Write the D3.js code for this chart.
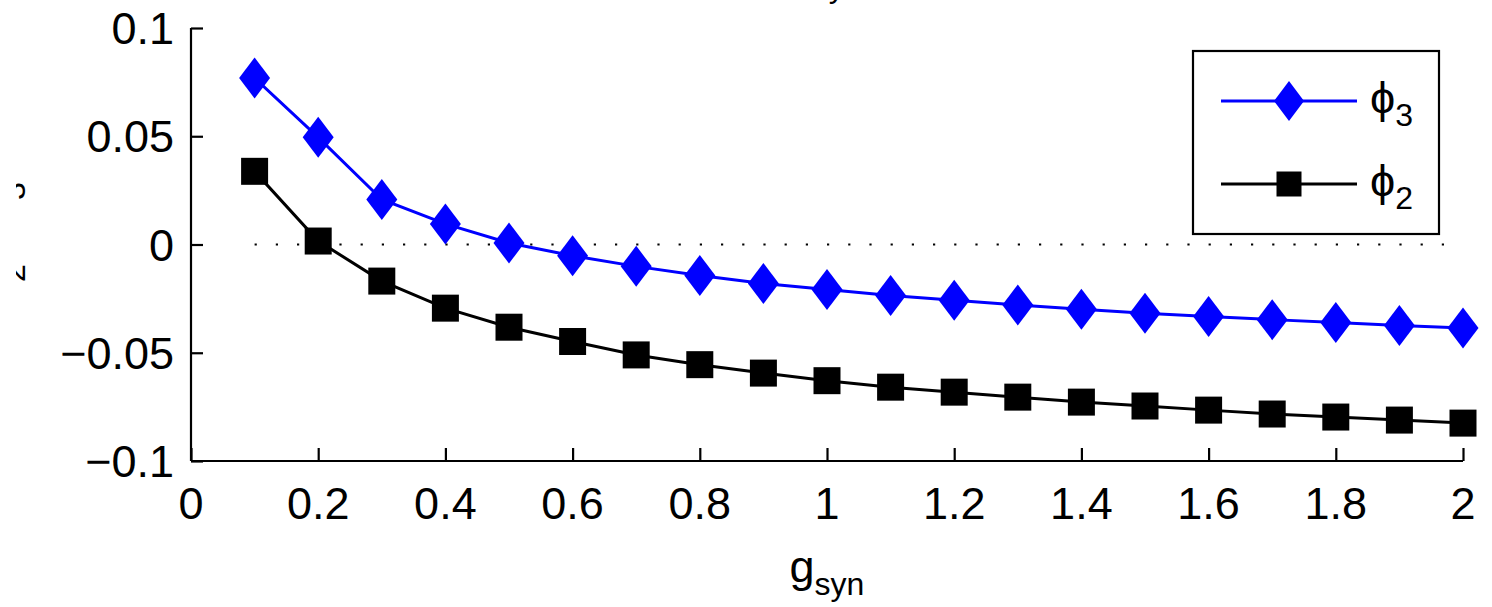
<!DOCTYPE html>
<html>
<head>
<meta charset="utf-8">
<script src="https://cdn.jsdelivr.net/npm/d3@7"></script>
<style>
  html, body { margin: 0; padding: 0; background: #fff; }
  svg { display: block; font-family: "Liberation Sans", Arial, Helvetica, sans-serif; }
</style>
</head>
<body>
<svg id="chart" width="1492" height="607"></svg>
<script>
// Coupling strength values
const gsyn = [0.1, 0.2, 0.3, 0.4, 0.5, 0.6, 0.7, 0.8, 0.9, 1.0,
              1.1, 1.2, 1.3, 1.4, 1.5, 1.6, 1.7, 1.8, 1.9, 2.0];
// Phase of the third cell
const phi3 = [0.0769, 0.0495, 0.0208, 0.0095, 0.0007, -0.0052, -0.0101, -0.0143, -0.0180, -0.0208,
              -0.0236, -0.0258, -0.0280, -0.0299, -0.0317, -0.0333, -0.0347, -0.0360, -0.0374, -0.0386];
// Phase of the second cell
const phi2 = [0.0338, 0.0016, -0.0169, -0.0294, -0.0382, -0.0448, -0.0510, -0.0555, -0.0594, -0.0629,
              -0.0659, -0.0682, -0.0705, -0.0728, -0.0746, -0.0765, -0.0783, -0.0797, -0.0811, -0.0825];
const xTicks = [0, 0.2, 0.4, 0.6, 0.8, 1, 1.2, 1.4, 1.6, 1.8, 2];
const yTicks = [-0.1, -0.05, 0, 0.05, 0.1];

const PHI = "\u03d5";
const svg = d3.select("#chart");
const x = d3.scaleLinear().domain([0, 2]).range([191, 1463]);
const y = d3.scaleLinear().domain([-0.1, 0.1]).range([461, 28]);

const fmt = v => (v < 0 ? "\u2212" : "") + String(Math.abs(v));

// Zero reference line (dotted)
svg.append("line")
  .attr("x1", x(0.1)).attr("x2", x(2))
  .attr("y1", y(0)).attr("y2", y(0))
  .attr("stroke", "#000").attr("stroke-width", 2.2)
  .attr("stroke-dasharray", "2.2 19");

// Axes: ticks point inward
const xAxis = d3.axisTop(x).tickValues(xTicks).tickSize(13).tickFormat("");
const gx = svg.append("g").attr("transform", `translate(0,${y(-0.1)})`).call(xAxis);
const yAxis = d3.axisRight(y).tickValues(yTicks).tickSize(12).tickFormat("");
const gy = svg.append("g").attr("transform", `translate(${x(0)},0)`).call(yAxis);
[gx, gy].forEach(g => {
  g.select(".domain").attr("stroke", "#000").attr("stroke-width", 2.2);
  g.selectAll(".tick line").attr("stroke", "#000").attr("stroke-width", 2.2);
});
gx.select(".domain").attr("d", `M${x(0)},0H${x(2)}`);
gy.select(".domain").attr("d", `M0,${y(-0.1)}V${y(0.1)}`);

// Tick labels
svg.append("g").selectAll("text").data(xTicks).join("text")
  .attr("x", d => x(d)).attr("y", 519)
  .attr("text-anchor", "middle").attr("font-size", 45).attr("fill", "#000")
  .text(d => fmt(d));
svg.append("g").selectAll("text").data(yTicks).join("text")
  .attr("x", 174).attr("y", d => y(d) + 16)
  .attr("text-anchor", "end").attr("font-size", 45).attr("fill", "#000")
  .text(d => fmt(d));

// Axis labels
const xl = svg.append("text").attr("x", 827).attr("y", 582)
  .attr("text-anchor", "middle").attr("font-size", 45).attr("fill", "#000");
xl.append("tspan").text("g");
xl.append("tspan").attr("font-size", 32).attr("dy", 13).text("syn");

// Y label lies mostly beyond the left margin; only the subscript tails show
svg.append("defs").append("clipPath").attr("id", "ylabClip")
  .append("rect").attr("x", 16).attr("y", 0).attr("width", 60).attr("height", 607);
const yl = svg.append("g").attr("clip-path", "url(#ylabClip)")
  .append("text")
  .attr("transform", "translate(-6,0) rotate(-90)")
  .attr("font-size", 45).attr("fill", "#000");
yl.append("tspan").attr("x", -314).text(PHI);
yl.append("tspan").attr("x", -282).attr("dy", 31).attr("font-size", 32).text("2");
yl.append("tspan").attr("x", -252).attr("dy", -31).text(", " + PHI);
yl.append("tspan").attr("x", -200).attr("dy", 31).attr("font-size", 32).text("3");

const tl = svg.append("text").attr("x", 720).attr("y", -16)
  .attr("text-anchor", "middle").attr("font-size", 45).attr("fill", "#000");
tl.append("tspan").text("Phase vs. g");
tl.append("tspan").attr("font-size", 32).attr("dy", 13).text("syn");

// Series
const series = [
  { name: "3", values: phi3, color: "#0000ff", shape: "diamond" },
  { name: "2", values: phi2, color: "#000000", shape: "square" }
];
const line = d3.line().x(d => x(d[0])).y(d => y(d[1]));
const markerPath = (shape) => shape === "diamond"
  ? "M0,-20.5L15.5,0L0,20.5L-15.5,0Z"
  : "M-13.5,-13.5H13.5V13.5H-13.5Z";

series.forEach(s => {
  const pts = gsyn.map((g, i) => [g, s.values[i]]);
  svg.append("path").datum(pts)
    .attr("d", line).attr("fill", "none")
    .attr("stroke", s.color).attr("stroke-width", 3);
  svg.append("g").selectAll("path").data(pts).join("path")
    .attr("transform", d => `translate(${x(d[0])},${y(d[1])})`)
    .attr("d", markerPath(s.shape)).attr("fill", s.color);
});

// Legend
const lg = svg.append("g");
lg.append("rect").attr("x", 1193).attr("y", 51).attr("width", 246).attr("height", 183)
  .attr("fill", "#fff").attr("stroke", "#000").attr("stroke-width", 2.2);
series.forEach((s, i) => {
  const cy = i === 0 ? 101 : 184;
  lg.append("line").attr("x1", 1221).attr("x2", 1357).attr("y1", cy).attr("y2", cy)
    .attr("stroke", s.color).attr("stroke-width", 3);
  lg.append("path").attr("transform", `translate(1289,${cy})`)
    .attr("d", s.shape === "diamond" ? "M0,-20L15,0L0,20L-15,0Z" : "M-12.5,-12.5H12.5V12.5H-12.5Z")
    .attr("fill", s.color);
  const t = lg.append("text").attr("x", 1370).attr("y", cy + 12)
    .attr("font-size", 45).attr("fill", "#000");
  t.append("tspan").text(PHI);
  t.append("tspan").attr("font-size", 32).attr("dy", 13).text(s.name);
});
</script>
</body>
</html>
